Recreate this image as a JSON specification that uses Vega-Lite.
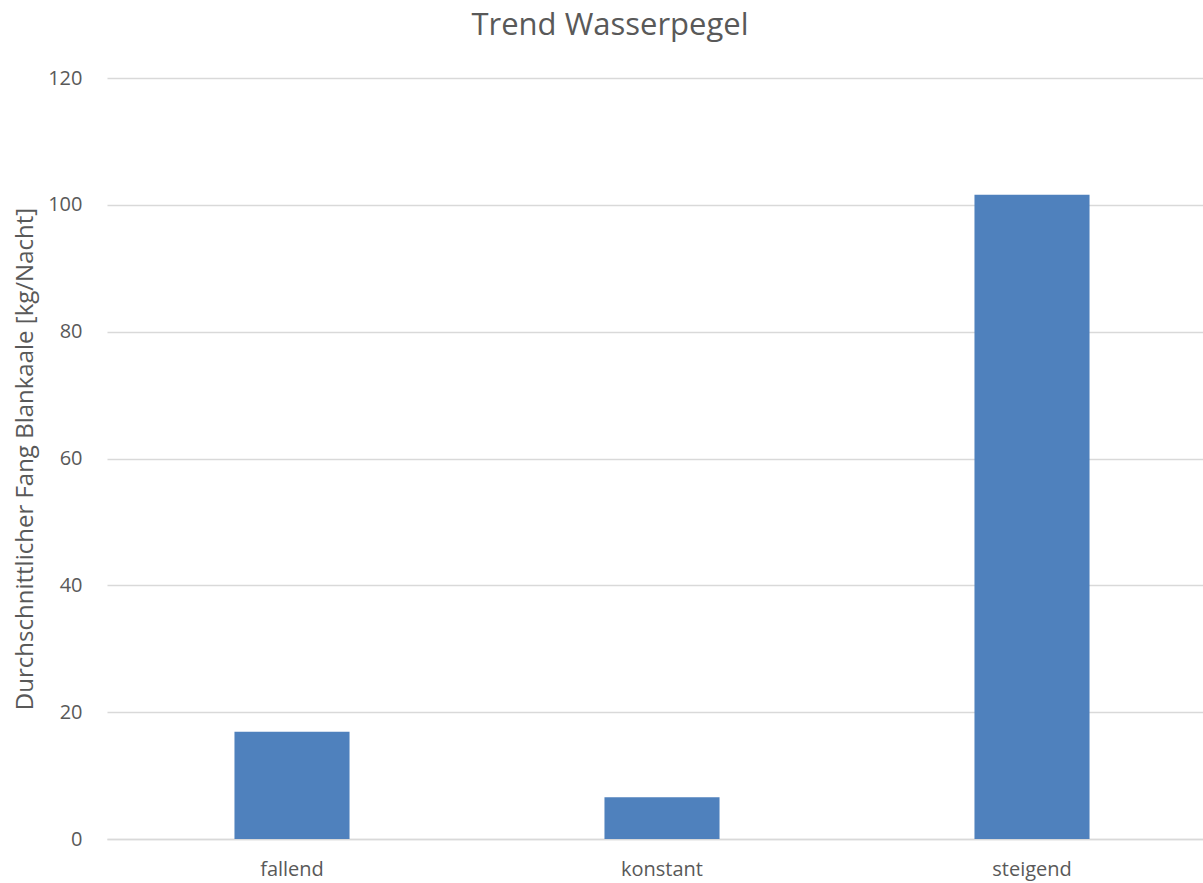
{
  "$schema": "https://vega.github.io/schema/vega-lite/v6.json",
  "autosize": "none",
  "width": 1110,
  "height": 761,
  "padding": {"left": 107, "top": 78, "right": 0, "bottom": 44},
  "background": "white",
  "title": {
    "text": "Trend Wasserpegel",
    "anchor": "middle",
    "frame": "group",
    "dx": -52,
    "offset": 26,
    "font": "Open Sans",
    "fontSize": 31,
    "fontWeight": "normal",
    "color": "#595959"
  },
  "data": {
    "values": [
      {"Trend": "fallend", "Fang": 16.9},
      {"Trend": "konstant", "Fang": 6.6},
      {"Trend": "steigend", "Fang": 101.6}
    ]
  },
  "mark": {"type": "bar", "color": "#4f81bd"},
  "encoding": {
    "x": {
      "field": "Trend",
      "type": "nominal",
      "sort": null,
      "scale": {"paddingInner": 0.689, "paddingOuter": 0.3445},
      "axis": {
        "title": null,
        "labelAngle": 0,
        "labelFont": "Open Sans",
        "labelFontSize": 20,
        "labelColor": "#595959",
        "labelPadding": 20,
        "ticks": false,
        "domainColor": "#d9d9d9",
        "domainWidth": 1.5
      }
    },
    "y": {
      "field": "Fang",
      "type": "quantitative",
      "scale": {"domain": [0, 120]},
      "axis": {
        "title": "Durchschnittlicher Fang Blankaale [kg/Nacht]",
        "titleFont": "Open Sans",
        "titleFontSize": 24,
        "titleFontWeight": "normal",
        "titleColor": "#595959",
        "titlePadding": 10,
        "values": [0, 20, 40, 60, 80, 100, 120],
        "labelFont": "Open Sans",
        "labelFontSize": 20,
        "labelColor": "#595959",
        "labelPadding": 25,
        "ticks": false,
        "domain": false,
        "gridColor": "#d9d9d9",
        "gridWidth": 1.5
      }
    }
  },
  "config": {"view": {"stroke": null}}
}
